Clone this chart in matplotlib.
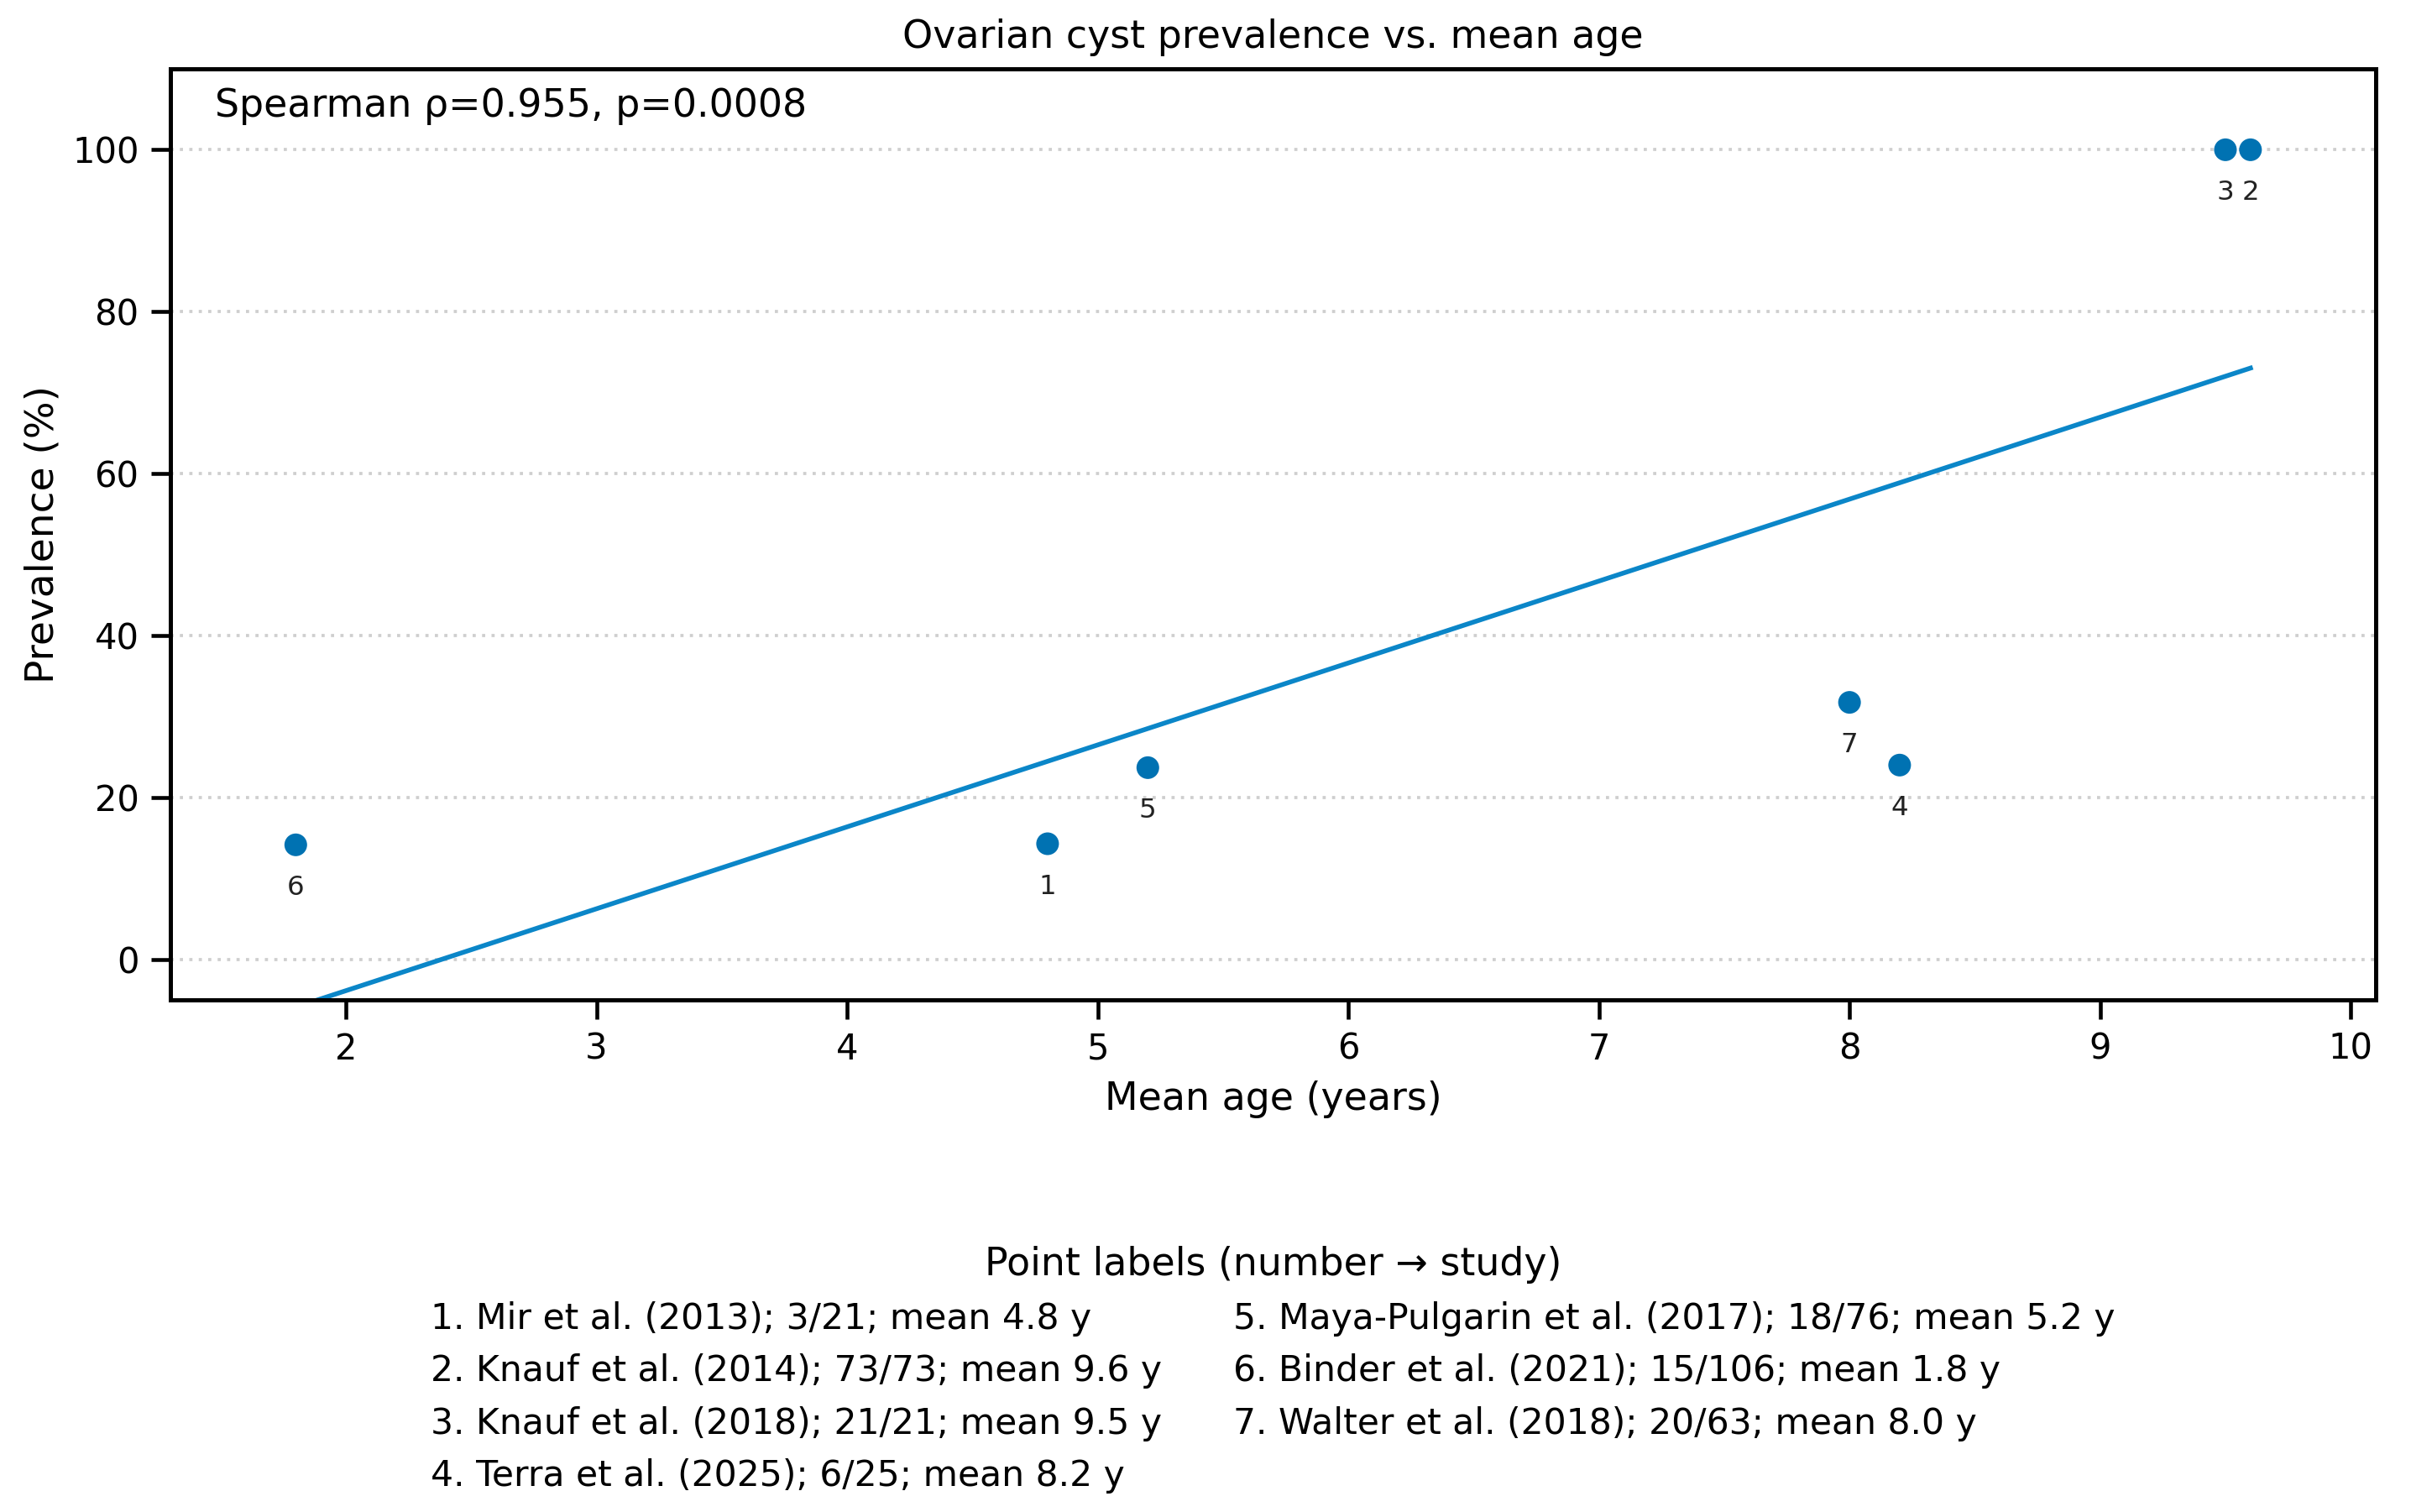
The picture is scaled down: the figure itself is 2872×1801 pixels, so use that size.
"""Ovarian cyst prevalence vs. mean age — scatter with OLS trend and numbered study key."""
import numpy as np
import matplotlib; matplotlib.use("Agg"); import matplotlib.pyplot as plt
from matplotlib.lines import Line2D

studies = ["Mir et al. (2013)", "Knauf et al. (2014)", "Knauf et al. (2018)",
           "Terra et al. (2025)", "Maya-Pulgarin et al. (2017)", "Binder et al. (2021)",
           "Walter et al. (2018)"]
cases = [3, 73, 21, 6, 18, 15, 20]
totals = [21, 73, 21, 25, 76, 106, 63]
mean_age = [4.8, 9.6, 9.5, 8.2, 5.2, 1.8, 8.0]
y_ticks = [0, 20, 40, 60, 80, 100]
x_ticks = [2, 3, 4, 5, 6, 7, 8, 9, 10]
stats_text = "Spearman \u03c1=0.955, p=0.0008"

BLUE, LINE = "#0072B2", "#0b86c8"
DPI = 300

x = np.array(mean_age)
prev = 100 * np.array(cases) / np.array(totals)

fig = plt.figure(figsize=(2872 / DPI, 1801 / DPI), dpi=DPI)
ax = fig.add_axes([0.0707, 0.3387, 0.9147, 0.6158])

# trend line (least squares on the plotted points)
slope, icpt = np.polyfit(x, prev, 1)
xs = np.array([x.min(), x.max()])
ax.plot(xs, slope * xs + icpt, color=LINE, lw=1.35, zorder=2)
ax.scatter(x, prev, s=42, color=BLUE, edgecolors="none", zorder=3)

for i, (xi, yi) in enumerate(zip(x, prev)):
    ax.annotate(str(i + 1), (xi, yi), xytext=(0, -12.3), textcoords="offset points",
                ha="center", va="center", fontsize=7.8, color="#222222")

ax.set_xlim(x.min() - 0.5, x.max() + 0.5)
ax.set_ylim(-5, 110)
ax.set_xticks(x_ticks); ax.set_yticks(y_ticks)
ax.yaxis.grid(True, linestyle=(0, (1, 2)), color="#cfcfcf", lw=0.9)
ax.set_axisbelow(True)
for sp in ax.spines.values():
    sp.set_linewidth(1.2)
ax.tick_params(labelsize=10, length=5.5, width=1.1)

ax.set_xlabel("Mean age (years)", fontsize=11)
ax.set_ylabel("Prevalence (%)", fontsize=11.3, labelpad=3)
ax.set_title("Ovarian cyst prevalence vs. mean age", fontsize=11)
ax.text(0.02, 0.98, stats_text, transform=ax.transAxes, ha="left", va="top", fontsize=11)

labels = [f"{i + 1}. {s}; {c}/{t}; mean {a:.1f} y"
          for i, (s, c, t, a) in enumerate(zip(studies, cases, totals, mean_age))]
handles = [Line2D([], [], linestyle="none") for _ in labels]
leg = fig.legend(handles, labels, loc="upper center", bbox_to_anchor=(0.528, 0.197),
                 ncol=2, frameon=False, fontsize=10.2, handlelength=0, handletextpad=0,
                 labelspacing=0.48, columnspacing=2.0,
                 title="Point labels (number \u2192 study)", title_fontsize=11)

fig.savefig("out.png", dpi=DPI, facecolor="white")
